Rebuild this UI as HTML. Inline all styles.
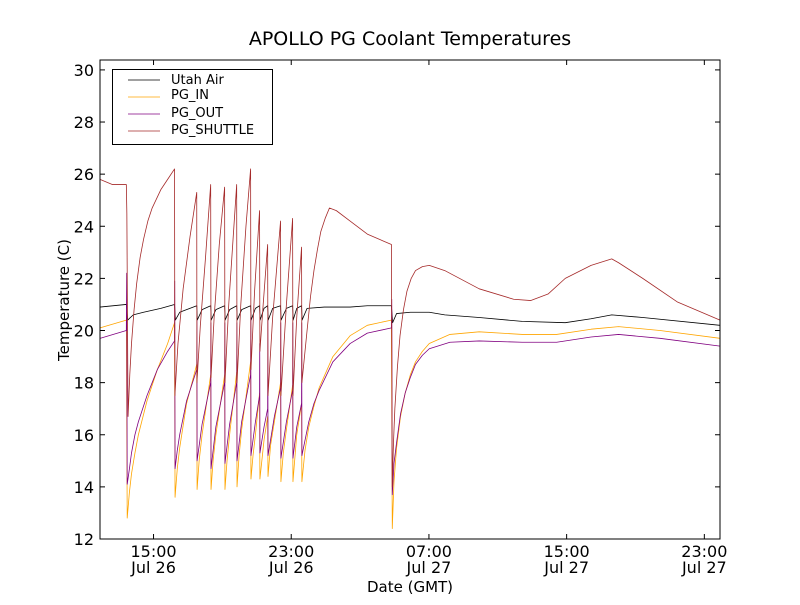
<!DOCTYPE html>
<html><head><meta charset="utf-8"><style>
body{margin:0;background:#fff;}
svg text{font-family:"DejaVu Sans","Liberation Sans",sans-serif;}
</style></head><body>
<svg id="chart" width="800" height="600" xmlns="http://www.w3.org/2000/svg">
<rect x="0" y="0" width="800" height="600" fill="#fff"/>
<text x="410" y="45" text-anchor="middle" font-size="19">APOLLO PG Coolant Temperatures</text>
<g id="series"></g>
<g id="axes"></g>
<text transform="translate(69,300) rotate(-90)" text-anchor="middle" font-size="15">Temperature (C)</text>
<text x="410" y="592" text-anchor="middle" font-size="15">Date (GMT)</text>
<g>
<rect x="112.5" y="69.5" width="160" height="75" fill="#fff" stroke="#000" stroke-width="1"/>
<line x1="128" y1="80" x2="160" y2="80" stroke="#000" stroke-width="0.8"/>
<text x="171" y="84" font-size="13">Utah Air</text>
<line x1="128" y1="97" x2="160" y2="97" stroke="#ffa500" stroke-width="0.8"/>
<text x="171" y="99" font-size="13">PG_IN</text>
<line x1="128" y1="114" x2="160" y2="114" stroke="#800080" stroke-width="0.8"/>
<text x="171" y="117" font-size="13">PG_OUT</text>
<line x1="128" y1="131" x2="160" y2="131" stroke="#a52a2a" stroke-width="0.8"/>
<text x="171" y="134" font-size="13">PG_SHUTTLE</text>
</g>
</svg>
<script>
// time in hours since Jul 26 00:00 GMT
const xDomain = [11.89, 47.91];
const yDomain = [12, 30.38];
const yTicks = [12,14,16,18,20,22,24,26,28,30];
const xTickTimes = [15, 23, 31, 39, 47];
const xTickTimeLabels = ["15:00","23:00","07:00","15:00","23:00"];
const xTickDateLabels = ["Jul 26","Jul 26","Jul 27","Jul 27","Jul 27"];

const utahAir = [[11.89,20.9],[13.42,21.0],[13.50,20.4],[13.82,20.6],[14.42,20.7],[15.42,20.85],[16.22,21.0],[16.27,20.4],[16.52,20.7],[17.51,20.95],[17.54,20.4],[17.82,20.8],[18.32,20.95],[18.35,20.4],[18.62,20.8],[19.13,20.95],[19.16,20.4],[19.42,20.8],[19.83,20.95],[19.86,20.4],[20.12,20.8],[20.64,20.95],[20.67,20.4],[20.92,20.85],[21.16,20.95],[21.19,20.4],[21.42,20.85],[21.63,20.95],[21.66,20.4],[21.92,20.85],[22.38,20.95],[22.41,20.4],[22.72,20.85],[23.08,20.95],[23.11,20.4],[23.32,20.85],[23.60,20.95],[23.63,20.4],[23.92,20.85],[24.92,20.9],[26.42,20.9],[27.42,20.95],[28.82,20.95],[28.89,20.3],[29.12,20.65],[29.92,20.7],[31.02,20.7],[31.92,20.6],[33.92,20.5],[36.42,20.35],[38.92,20.3],[40.42,20.45],[41.62,20.6],[43.42,20.5],[47.91,20.2]];

const pgIn = [[11.89,20.1],[13.42,20.4],[13.47,12.8],[13.60,13.8],[13.72,14.5],[13.92,15.3],[14.12,16.0],[14.62,17.3],[15.22,18.5],[15.82,19.5],[16.22,20.3],[16.25,13.6],[16.38,14.7],[16.52,15.5],[16.92,17.2],[17.51,18.7],[17.53,13.9],[17.65,15.0],[17.82,16.0],[18.32,18.3],[18.34,13.9],[18.46,15.0],[18.62,16.0],[19.13,18.3],[19.15,13.9],[19.27,15.0],[19.42,16.0],[19.83,18.4],[19.85,14.0],[19.97,15.2],[20.12,16.2],[20.64,18.8],[20.66,14.3],[20.78,15.2],[20.92,16.0],[21.16,17.6],[21.18,14.3],[21.42,15.8],[21.63,16.7],[21.65,14.4],[21.80,15.6],[22.02,16.5],[22.38,18.0],[22.40,14.2],[22.54,15.3],[22.72,16.2],[23.08,17.9],[23.10,14.2],[23.32,16.0],[23.60,17.2],[23.62,14.2],[23.80,15.4],[24.02,16.3],[24.32,17.1],[24.62,17.8],[25.42,19.0],[26.42,19.8],[27.42,20.2],[28.82,20.4],[28.87,12.4],[28.97,14.2],[29.12,15.5],[29.35,16.7],[29.62,17.6],[29.92,18.3],[30.22,18.8],[30.62,19.2],[31.02,19.5],[32.22,19.85],[33.92,19.95],[36.42,19.85],[38.42,19.85],[40.42,20.05],[42.02,20.15],[44.42,20.0],[47.91,19.7]];

const pgOut = [[11.89,19.7],[13.42,20.0],[13.44,22.2],[13.47,14.1],[13.60,14.7],[13.72,15.3],[13.92,16.0],[14.12,16.5],[14.62,17.5],[15.22,18.5],[15.82,19.2],[16.22,19.6],[16.23,21.9],[16.25,14.7],[16.38,15.4],[16.52,16.0],[16.92,17.3],[17.51,18.5],[17.52,20.4],[17.53,15.0],[17.82,16.4],[18.32,18.0],[18.33,20.3],[18.34,14.7],[18.62,16.3],[19.13,18.0],[19.14,20.3],[19.15,14.9],[19.42,16.4],[19.83,18.0],[19.84,20.3],[19.85,15.0],[20.12,16.5],[20.64,18.3],[20.65,20.5],[20.66,15.2],[20.92,16.5],[21.16,17.5],[21.17,19.5],[21.18,15.3],[21.42,16.3],[21.63,17.0],[21.64,20.4],[21.65,15.2],[22.02,16.7],[22.38,17.8],[22.39,20.3],[22.40,15.1],[22.72,16.5],[23.08,17.7],[23.09,20.3],[23.10,15.1],[23.32,16.3],[23.60,17.2],[23.61,20.3],[23.62,15.2],[24.02,16.5],[24.32,17.2],[24.62,17.7],[25.42,18.8],[26.42,19.5],[27.42,19.9],[28.82,20.1],[28.84,21.2],[28.87,13.7],[28.97,14.9],[29.12,15.7],[29.35,16.8],[29.62,17.6],[29.92,18.2],[30.22,18.7],[30.62,19.05],[31.02,19.3],[32.22,19.55],[33.92,19.6],[36.42,19.55],[38.42,19.55],[40.42,19.75],[42.02,19.85],[44.42,19.7],[47.91,19.4]];

const pgShuttle = [[11.89,25.8],[12.62,25.6],[13.42,25.6],[13.45,24.5],[13.52,16.7],[13.62,18.3],[13.72,19.5],[13.87,20.8],[14.02,21.8],[14.22,22.8],[14.42,23.5],[14.67,24.2],[14.92,24.7],[15.42,25.4],[15.92,25.9],[16.22,26.2],[16.24,17.5],[16.42,19.5],[16.72,21.6],[17.12,23.6],[17.51,25.3],[17.52,18.0],[17.72,20.2],[18.02,22.8],[18.32,25.6],[18.34,18.2],[18.52,20.5],[18.82,23.3],[19.13,25.5],[19.15,18.0],[19.37,21.0],[19.62,23.5],[19.83,25.6],[19.85,18.0],[20.07,21.0],[20.37,24.0],[20.64,26.2],[20.66,18.5],[20.87,21.5],[21.16,24.6],[21.18,19.2],[21.37,21.0],[21.63,23.3],[21.65,17.5],[21.92,20.5],[22.38,24.2],[22.40,17.5],[22.72,21.0],[23.08,24.3],[23.10,17.5],[23.32,20.5],[23.60,23.2],[23.62,18.0],[23.92,20.0],[24.12,21.3],[24.32,22.3],[24.52,23.1],[24.72,23.8],[24.97,24.3],[25.22,24.7],[25.62,24.6],[26.42,24.2],[27.42,23.7],[28.82,23.3],[28.87,14.0],[28.94,15.7],[29.02,17.0],[29.17,18.6],[29.32,19.8],[29.52,20.8],[29.72,21.5],[29.97,22.0],[30.22,22.3],[30.62,22.45],[31.02,22.5],[31.92,22.3],[33.92,21.6],[35.92,21.2],[36.92,21.15],[37.92,21.4],[38.92,22.0],[40.42,22.5],[41.62,22.75],[42.02,22.6],[43.42,22.0],[45.42,21.1],[47.91,20.4]];

const L=100,R=720,T=60,B=539;
function xs(t){return L+(t-xDomain[0])/(xDomain[1]-xDomain[0])*(R-L);}
function ys(v){return B-(v-yDomain[0])/(yDomain[1]-yDomain[0])*(B-T);}
const NS="http://www.w3.org/2000/svg";
const sg=document.getElementById('series');
function drawLine(data,color,name){
  const p=document.createElementNS(NS,'polyline');
  p.setAttribute('points',data.map(d=>xs(d[0]).toFixed(2)+','+ys(d[1]).toFixed(2)).join(' '));
  p.setAttribute('fill','none');p.setAttribute('stroke',color);p.setAttribute('stroke-width','0.8');
  p.setAttribute('stroke-linejoin','round');
  
  
  sg.appendChild(p);
}
drawLine(utahAir,'#000','line-utah-air');
drawLine(pgIn,'#ffa500','line-pg-in');
drawLine(pgOut,'#800080','line-pg-out');
drawLine(pgShuttle,'#a52a2a','line-pg-shuttle');

const ax=document.getElementById('axes');
function el(tag,attrs){const e=document.createElementNS(NS,tag);for(const k in attrs)e.setAttribute(k,attrs[k]);ax.appendChild(e);return e;}
const frame=el('rect',{x:L,y:T,width:R-L,height:B-T,fill:'none',stroke:'#000','stroke-width':1});


yTicks.forEach(v=>{
  const y=ys(v);
  el('line',{x1:L,y1:y,x2:L+5,y2:y,stroke:'#000'});
  el('line',{x1:R,y1:y,x2:R-5,y2:y,stroke:'#000'});
  const t=el('text',{x:L-6,y:y+6,'text-anchor':'end','font-size':16});
  t.textContent=v;
  
  
});
xTickTimes.forEach((tt,i)=>{
  const x=xs(tt);
  el('line',{x1:x,y1:B,x2:x,y2:B-5,stroke:'#000'});
  el('line',{x1:x,y1:T,x2:x,y2:T+5,stroke:'#000'});
  const a=el('text',{x:x,y:B+18,'text-anchor':'middle','font-size':16});
  a.textContent=xTickTimeLabels[i];
  
  
  const b=el('text',{x:x,y:B+34,'text-anchor':'middle','font-size':16});
  b.textContent=xTickDateLabels[i];
  
  
});
</script>
</body></html>
